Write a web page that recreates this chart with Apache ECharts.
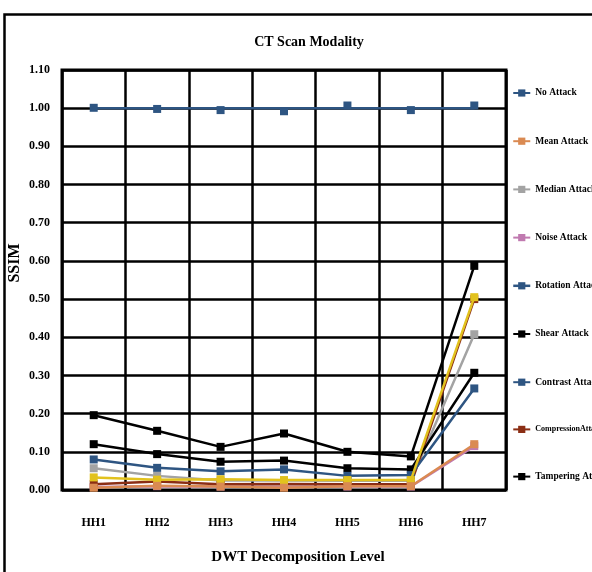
<!DOCTYPE html>
<html><head><meta charset="utf-8">
<script src="https://cdn.jsdelivr.net/npm/echarts@6/dist/echarts.min.js"></script>
<style>html,body{margin:0;padding:0;background:#fff}#c{width:592px;height:572px}</style>
</head><body><div id="c"></div>
<script>
var categories = ['HH1','HH2','HH3','HH4','HH5','HH6','HH7'];
var noAttack      = [1.00, 1.00, 1.00, 1.00, 1.00, 1.00, 1.00];
var meanAttack    = [0.006, 0.011, 0.009, 0.006, 0.010, 0.010, 0.120];
var medianAttack  = [0.057, 0.037, 0.025, 0.025, 0.024, 0.024, 0.408];
var noiseAttack   = [0.008, 0.010, 0.009, 0.008, 0.009, 0.009, 0.115];
var rotationAttack= [1.001, 0.998, 0.995, 0.992, 1.007, 0.995, 1.007];
var shearAttack   = [0.120, 0.094, 0.074, 0.077, 0.057, 0.054, 0.307];
var contrastAttack= [0.080, 0.058, 0.049, 0.054, 0.037, 0.039, 0.266];
var compressionAttack = [0.015, 0.022, 0.015, 0.016, 0.015, 0.015, 0.500];
var tamperingAttack   = [0.196, 0.155, 0.113, 0.148, 0.100, 0.088, 0.587];
var extraSeries   = [0.033, 0.027, 0.028, 0.026, 0.026, 0.026, 0.505];
var yTicks = {min: 0, max: 1.1, interval: 0.1};

var chart = echarts.init(document.getElementById('c'), null, {renderer: 'canvas'});
var serif = '"Liberation Serif","Times New Roman",serif';
function mk(name, data, color, z, extra) {
  var s = {
    name: name, type: 'line', data: data, symbol: 'rect', symbolSize: 8,
    showSymbol: true, z: z,
    lineStyle: {color: color, width: 2.5},
    itemStyle: {color: color},
    emphasis: {disabled: true}, animation: false
  };
  if (extra) Object.assign(s, extra);
  return s;
}
var legendNames = ['No Attack','Mean Attack','Median Attack','Noise Attack','Rotation Attack','Shear Attack','Contrast Attack','CompressionAttack','Tampering Attack'];
var legendData = legendNames.map(function(n){
  var d = {name: n};
  if (n === 'No Attack') d.itemStyle = {opacity: 1};
  if (n === 'Rotation Attack') d.lineStyle = {opacity: 1, width: 2.5};
  if (n === 'CompressionAttack') d.textStyle = {fontSize: 8};
  return d;
});
var option = {
  backgroundColor: '#fff',
  animation: false,
  graphic: [
    {type: 'rect', left: 2, top: 12, z: 0, silent: true,
     shape: {width: 640, height: 640}, style: {fill: 'none', stroke: '#000', lineWidth: 2.5}},
    {type: 'text', x: 309, y: 42, silent: true, z: 10,
     style: {text: 'CT Scan Modality', font: 'bold 14px ' + serif, fill: '#000', textAlign: 'center', textVerticalAlign: 'middle'}},
    {type: 'text', x: 298, y: 557, silent: true, z: 10,
     style: {text: 'DWT Decomposition Level', font: 'bold 15px ' + serif, fill: '#000', textAlign: 'center', textVerticalAlign: 'middle'}},
    {type: 'text', x: 15, y: 263, rotation: Math.PI / 2, silent: true, z: 10,
     style: {text: 'SSIM', font: 'bold 16px ' + serif, fill: '#000', textAlign: 'center', textVerticalAlign: 'middle'}}
  ],
  legend: {
    orient: 'vertical', left: 512, top: 88, itemGap: 38.2,
    itemWidth: 17, itemHeight: 9, data: legendData,
    textStyle: {fontFamily: serif, fontWeight: 'bold', fontSize: 9.5, color: '#000'},
    selectedMode: false, padding: 0
  },
  grid: {left: 62, top: 70, width: 444, height: 420, show: true, borderColor: '#000', borderWidth: 3, backgroundColor: 'transparent', z: 3},
  xAxis: {
    type: 'category', data: categories, boundaryGap: true,
    axisLine: {show: false}, axisTick: {show: false},
    axisLabel: {margin: 27, fontFamily: serif, fontWeight: 'bold', fontSize: 12, color: '#000'},
    splitLine: {show: true, interval: 0, lineStyle: {color: '#000', width: 2.5}}
  },
  yAxis: {
    type: 'value', min: yTicks.min, max: yTicks.max, interval: yTicks.interval,
    axisLine: {show: false}, axisTick: {show: false},
    axisLabel: {margin: 12, fontFamily: serif, fontWeight: 'bold', fontSize: 12, color: '#000',
      formatter: function(v){ return v.toFixed(2); }},
    splitLine: {show: true, lineStyle: {color: '#000', width: 2.5}}
  },
  series: [
    mk('No Attack', noAttack, '#2E5582', 5, {itemStyle: {color: '#2E5582', opacity: 0}}),
    mk('Noise Attack', noiseAttack, '#C07AB0', 4),
    mk('Mean Attack', meanAttack, '#DA8A52', 8),
    mk('Median Attack', medianAttack, '#A3A3A3', 5),
    mk('Rotation Attack', rotationAttack, '#2E5582', 6, {lineStyle: {color: '#2E5582', width: 2.5, opacity: 0}}),
    mk('Shear Attack', shearAttack, '#000000', 6),
    mk('Contrast Attack', contrastAttack, '#2E5582', 6),
    mk('CompressionAttack', compressionAttack, '#8B2E14', 5),
    mk('Tampering Attack', tamperingAttack, '#000000', 6),
    mk('Series10', extraSeries, '#E2C21E', 7)
  ]
};
chart.setOption(option);
</script></body></html>
